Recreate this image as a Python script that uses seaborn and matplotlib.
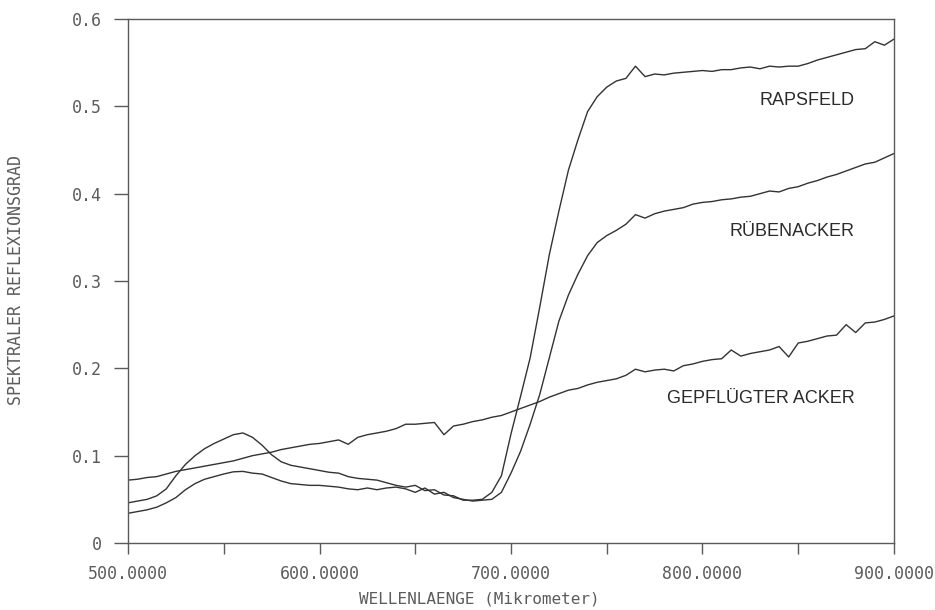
import matplotlib
matplotlib.use("Agg")
import matplotlib.pyplot as plt
import numpy as np
import pandas as pd
import seaborn as sns

# wavelengths (5 nm steps)
wellenlaenge = list(range(500, 905, 5))

gepfluegter_acker = [
    0.072, 0.073, 0.075, 0.076, 0.079, 0.082, 0.084, 0.086, 0.088, 0.090,
    0.092, 0.094, 0.097, 0.100, 0.102, 0.104, 0.107, 0.109, 0.111, 0.113,
    0.114, 0.116, 0.118, 0.113, 0.121, 0.124, 0.126, 0.128, 0.131, 0.136,
    0.136, 0.137, 0.138, 0.124, 0.134, 0.136, 0.139, 0.141, 0.144, 0.146,
    0.150, 0.154, 0.158, 0.162, 0.167, 0.171, 0.175, 0.177, 0.181, 0.184,
    0.186, 0.188, 0.192, 0.199, 0.196, 0.198, 0.199, 0.197, 0.203, 0.205,
    0.208, 0.210, 0.211, 0.221, 0.214, 0.217, 0.219, 0.221, 0.225, 0.213,
    0.229, 0.231, 0.234, 0.237, 0.238, 0.250, 0.241, 0.252, 0.253, 0.256,
    0.260,
]

rapsfeld = [
    0.046, 0.048, 0.050, 0.054, 0.062, 0.077, 0.090, 0.100, 0.108, 0.114,
    0.119, 0.124, 0.126, 0.121, 0.112, 0.101, 0.093, 0.089, 0.087, 0.085,
    0.083, 0.081, 0.080, 0.076, 0.074, 0.073, 0.072, 0.069, 0.066, 0.064,
    0.066, 0.060, 0.061, 0.055, 0.054, 0.049, 0.049, 0.050, 0.058, 0.077,
    0.125, 0.168, 0.212, 0.270, 0.330, 0.380, 0.427, 0.462, 0.494, 0.511,
    0.522, 0.529, 0.532, 0.546, 0.534, 0.537, 0.536, 0.538, 0.539, 0.540,
    0.541, 0.540, 0.542, 0.542, 0.544, 0.545, 0.543, 0.546, 0.545, 0.546,
    0.546, 0.549, 0.553, 0.556, 0.559, 0.562, 0.565, 0.566, 0.574, 0.570,
    0.577,
]

ruebenacker = [
    0.034, 0.036, 0.038, 0.041, 0.046, 0.052, 0.061, 0.068, 0.073, 0.076,
    0.079, 0.0815, 0.082, 0.080, 0.079, 0.075, 0.071, 0.068, 0.067, 0.066,
    0.066, 0.065, 0.064, 0.062, 0.061, 0.063, 0.061, 0.063, 0.064, 0.062,
    0.058, 0.063, 0.056, 0.058, 0.052, 0.050, 0.048, 0.049, 0.050, 0.058,
    0.080, 0.105, 0.136, 0.170, 0.212, 0.254, 0.284, 0.308, 0.329, 0.344,
    0.352, 0.358, 0.365, 0.376, 0.372, 0.377, 0.380, 0.382, 0.384, 0.388,
    0.390, 0.391, 0.393, 0.394, 0.396, 0.397, 0.400, 0.403, 0.402, 0.406,
    0.408, 0.412, 0.415, 0.419, 0.422, 0.426, 0.430, 0.434, 0.436, 0.441,
    0.446,
]

x_ticks = [500, 600, 700, 800, 900]
x_ticklabels = ["500.0000", "600.0000", "700.0000", "800.0000", "900.0000"]
y_ticks = [0, 0.1, 0.2, 0.3, 0.4, 0.5, 0.6]
y_ticklabels = ["0", "0.1", "0.2", "0.3", "0.4", "0.5", "0.6"]

# label texts and where they sit (x = right edge, y = centre)
labels = ["RAPSFELD", "RÜBENACKER", "GEPFLÜGTER ACKER"]
label_x = [879.5, 879.5, 879.5]
label_y = [0.507, 0.357, 0.166]

df = pd.DataFrame({
    "wellenlaenge": wellenlaenge * 3,
    "reflexion": rapsfeld + ruebenacker + gepfluegter_acker,
    "feld": ["RAPSFELD"] * len(wellenlaenge) + ["RÜBENACKER"] * len(wellenlaenge)
            + ["GEPFLÜGTER ACKER"] * len(wellenlaenge),
})

sns.set_theme(style="white")
plt.rcParams["font.family"] = ["DejaVu Sans Mono", "DejaVu Sans"]

fig = plt.figure(figsize=(9.35, 6.1), dpi=100)
ax = fig.add_axes([128 / 935, 67 / 610, 766 / 935, 524 / 610])

line_col = "#333333"
axis_col = "#5a5a5a"
sns.lineplot(data=df, x="wellenlaenge", y="reflexion", units="feld", estimator=None,
             color=line_col, linewidth=1.0, ax=ax, legend=False)

ax.set_xlim(500, 900)
ax.set_ylim(0, 0.6)
ax.set_xticks(x_ticks)
ax.set_xticklabels(x_ticklabels)
ax.set_xticks([550, 650, 750, 850], minor=True)
ax.set_yticks(y_ticks)
ax.set_yticklabels(y_ticklabels)
ax.set_xlabel("")
ax.set_ylabel("")

for s in ax.spines.values():
    s.set_visible(True)
    s.set_color(axis_col)
    s.set_linewidth(1.0)

ax.tick_params(axis="x", which="both", direction="out", length=8, width=1.0,
               color=axis_col, bottom=True, pad=7.5, labelsize=12, labelcolor="#5c5c5c")
ax.tick_params(axis="y", which="major", direction="out", length=10, width=1.0,
               color=axis_col, left=True, pad=8.5, labelsize=12, labelcolor="#5c5c5c")

for txt, lx, ly in zip(labels, label_x, label_y):
    ax.text(lx, ly, txt, ha="right", va="center", fontsize=13,
            family=["Liberation Sans", "DejaVu Sans"], color="#2b2b2b")

fig.text(479 / 935, 1 - 599 / 610, "WELLENLAENGE (Mikrometer)", ha="center", va="center",
         fontsize=11.5, color="#5c5c5c")
fig.text(16 / 935, 1 - 280 / 610, "SPEKTRALER REFLEXIONSGRAD", ha="center", va="center",
         rotation=90, fontsize=12, color="#5c5c5c")

fig.savefig("out.png", dpi=100)
